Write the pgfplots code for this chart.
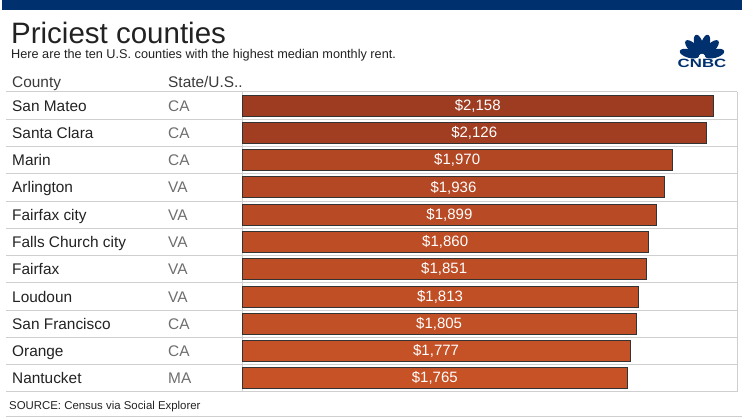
\documentclass[border=0pt]{standalone}
\usepackage{graphicx}
\usepackage{pgfplots}
\pgfplotsset{compat=1.18}
\usepackage{pgfplotstable}
\usepackage{fontspec}
\setmainfont{Liberation Sans}
\definecolor{navy}{HTML}{00306E}
\definecolor{gridc}{HTML}{CFCFCF}
\definecolor{barline}{HTML}{333333}
\definecolor{txt}{HTML}{222222}
\definecolor{hdr}{HTML}{3A3A3A}
\definecolor{statec}{HTML}{6E6E6E}
\definecolor{cA}{RGB}{158,60,34}
\definecolor{cB}{RGB}{161,62,34}
\definecolor{cC}{RGB}{178,71,36}
\definecolor{cD}{RGB}{181,72,36}
\definecolor{cE}{RGB}{184,75,37}
\definecolor{cF}{RGB}{188,77,37}
\definecolor{cG}{RGB}{189,77,37}
\definecolor{cH}{RGB}{193,79,38}
\definecolor{cI}{RGB}{194,80,38}
\definecolor{cJ}{RGB}{197,81,38}
\definecolor{cK}{RGB}{198,82,38}

\pgfplotstableread{
k v
1 2158
2 2126
3 1970
4 1936
5 1899
6 1860
7 1851
8 1813
9 1805
10 1777
11 1765
}\rentdata

\begin{document}
\begin{tikzpicture}
\useasboundingbox (0pt,0pt) rectangle (752pt,419pt);
\begin{scope}[x=1pt,y=1pt]
% top band
\fill[navy] (2,409) rectangle (742,419);
% title and subtitle
\node[anchor=base west, inner sep=0, text=txt, font=\fontsize{29.5}{29.5}\selectfont] at (11,375) {Priciest counties};
\node[anchor=base west, inner sep=0, text=txt, font=\fontsize{12.7}{12.7}\selectfont] at (11,360) {Here are the ten U.S. counties with the highest median monthly rent.};
% logo
\begin{scope}[shift={(702,362)}]
  \foreach \a in {15,45,75,105,135,165}{
    \fill[navy, rotate=\a] (13,0) ellipse [x radius=10, y radius=4.3];
  }
\end{scope}
\node[anchor=base, inner sep=0, text=navy, font=\fontsize{12}{12}\selectfont\bfseries] at (702,351) {\scalebox{1.4}[1]{CNBC}};
% header
\node[anchor=base west, inner sep=0, text=hdr, font=\fontsize{15.4}{15.4}\selectfont] at (12,331) {County};
\node[anchor=base west, inner sep=0, text=hdr, font=\fontsize{15.4}{15.4}\selectfont] at (168,331) {State/U.S..};
% row separators
\foreach \r in {0,...,11}{
  \draw[gridc, line width=1pt] (6,{327-27.2727*\r}) -- (737,{327-27.2727*\r});
}
\draw[gridc, line width=1pt] (242,327) -- (242,27);
\draw[gridc, line width=1pt] (737,327) -- (737,27);
% row texts
\foreach \n/\s [count=\r] in {San Mateo/CA, Santa Clara/CA, Marin/CA, Arlington/VA, Fairfax city/VA, Falls Church city/VA, Fairfax/VA, Loudoun/VA, San Francisco/CA, Orange/CA, Nantucket/MA}{
  \node[anchor=base west, inner sep=0, text=txt, font=\fontsize{15.4}{15.4}\selectfont] at (12,{327-27.2727*(\r-0.5)-5.5}) {\n};
  \node[anchor=base west, inner sep=0, text=statec, font=\fontsize{15.4}{15.4}\selectfont] at (168,{327-27.2727*(\r-0.5)-5.5}) {\s};
}
% footer
\node[anchor=base west, inner sep=0, text=txt, font=\fontsize{11.4}{11.4}\selectfont] at (9,9) {SOURCE: Census via Social Explorer};
\draw[gridc, line width=1pt] (6,2) -- (742,2);
\end{scope}

\begin{axis}[
  at={(242pt,27pt)}, anchor=south west,
  width=495pt, height=300pt, scale only axis,
  xmin=0, xmax=2266, ymin=0.5, ymax=11.5, y dir=reverse,
  hide axis, clip=false,
]
\addplot[xbar, bar shift=0pt, bar width=21pt, fill=cA, draw=barline, line width=1pt] coordinates {(2158,1)};
\addplot[xbar, bar shift=0pt, bar width=21pt, fill=cB, draw=barline, line width=1pt] coordinates {(2126,2)};
\addplot[xbar, bar shift=0pt, bar width=21pt, fill=cC, draw=barline, line width=1pt] coordinates {(1970,3)};
\addplot[xbar, bar shift=0pt, bar width=21pt, fill=cD, draw=barline, line width=1pt] coordinates {(1936,4)};
\addplot[xbar, bar shift=0pt, bar width=21pt, fill=cE, draw=barline, line width=1pt] coordinates {(1899,5)};
\addplot[xbar, bar shift=0pt, bar width=21pt, fill=cF, draw=barline, line width=1pt] coordinates {(1860,6)};
\addplot[xbar, bar shift=0pt, bar width=21pt, fill=cG, draw=barline, line width=1pt] coordinates {(1851,7)};
\addplot[xbar, bar shift=0pt, bar width=21pt, fill=cH, draw=barline, line width=1pt] coordinates {(1813,8)};
\addplot[xbar, bar shift=0pt, bar width=21pt, fill=cI, draw=barline, line width=1pt] coordinates {(1805,9)};
\addplot[xbar, bar shift=0pt, bar width=21pt, fill=cJ, draw=barline, line width=1pt] coordinates {(1777,10)};
\addplot[xbar, bar shift=0pt, bar width=21pt, fill=cK, draw=barline, line width=1pt] coordinates {(1765,11)};
\addplot[draw=none, mark=none,
  point meta=explicit,
  nodes near coords={\$\pgfmathprintnumber[assume math mode=true, fixed, precision=0, 1000 sep={,}]{\pgfplotspointmeta}},
  every node near coord/.style={anchor=center, text=white, inner sep=0, font=\fontsize{15}{15}\selectfont},
] table[x expr=\thisrow{v}/2, y=k, meta=v] {\rentdata};
\end{axis}
\end{tikzpicture}
\end{document}
